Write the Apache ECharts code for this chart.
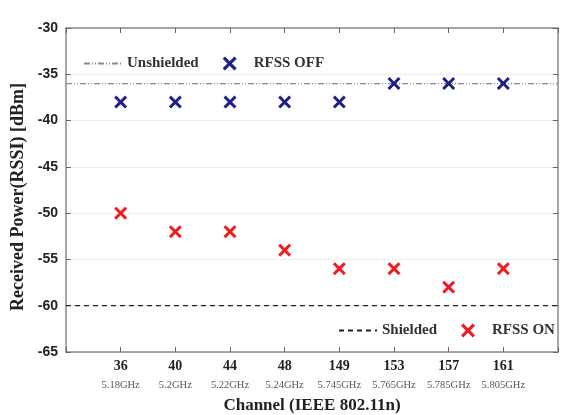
<!doctype html>
<html>
    <head>
        <meta charset="utf-8">
        <title>RSSI per channel</title>
        <style>
            html, body { margin: 0; padding: 0; background: #fff; }
            #main { width: 566px; height: 415px; }
        </style>
    </head>
    <body>
        <div id="main"></div>
        <script src="https://cdn.jsdelivr.net/npm/echarts@6/dist/echarts.min.js"></script>
        <script>
            var channels = ['36', '40', '44', '48', '149', '153', '157', '161'];
            var frequencies = ['5.18GHz', '5.2GHz', '5.22GHz', '5.24GHz', '5.745GHz', '5.765GHz', '5.785GHz', '5.805GHz'];
            var rfssOff = [-38, -38, -38, -38, -38, -36, -36, -36];
            var rfssOn = [-50, -52, -52, -54, -56, -56, -58, -56];
            var unshieldedLevel = -36;
            var shieldedLevel = -60;

            var cross = 'path://M0,1.6L1.6,0L5,3.4L8.4,0L10,1.6L6.6,5L10,8.4L8.4,10L5,6.6L1.6,10L0,8.4L3.4,5Z';
            var serif = '"Liberation Serif", "DejaVu Serif", serif';
            var noDot = { color: 'transparent', borderWidth: 0, opacity: 0 };

            function pairs(values) {
                return values.map(function (v, i) { return [i, v]; });
            }
            function flat(level) {
                return [[-1, level], [channels.length, level]];
            }

            var chart = echarts.init(document.getElementById('main'));

            var xBase = {
                type: 'value',
                min: -1,
                max: channels.length,
                interval: 1,
                axisLine: { onZero: false, lineStyle: { color: '#8a8a8a', width: 1.5 } },
                axisTick: { inside: true, length: 5, lineStyle: { color: '#666' } },
                splitLine: { show: false }
            };
            var yBase = {
                type: 'value',
                min: -65,
                max: -30,
                interval: 5,
                axisLine: { show: true, onZero: false, lineStyle: { color: '#8a8a8a', width: 1.5 } },
                axisTick: { show: true, inside: true, length: 5, lineStyle: { color: '#666' } }
            };
            var legendText = { fontFamily: serif, fontWeight: 'bold', fontSize: 15, color: '#333' };

            chart.setOption({
                animation: false,
                grid: { left: 66, right: 8, top: 28, bottom: 63, outerBoundsMode: 'none', containLabel: false },
                legend: [{
                    left: 78,
                    top: 51,
                    itemWidth: 38,
                    itemHeight: 14,
                    itemGap: 24,
                    textStyle: legendText,
                    data: [{ name: 'Unshielded', itemStyle: noDot }, { name: 'RFSS OFF', icon: cross }]
                }, {
                    left: 333,
                    top: 318,
                    itemWidth: 38,
                    itemHeight: 14,
                    itemGap: 24,
                    textStyle: legendText,
                    data: [{ name: 'Shielded', itemStyle: noDot }, { name: 'RFSS ON', icon: cross }]
                }],
                xAxis: [Object.assign({}, xBase, {
                    position: 'bottom',
                    name: 'Channel (IEEE 802.11n)',
                    nameLocation: 'middle',
                    nameGap: 45,
                    nameTextStyle: { fontFamily: serif, fontWeight: 'bold', fontSize: 17, color: '#222' },
                    axisLabel: {
                        margin: 4,
                        formatter: function (v) {
                            if (v < 0 || v >= channels.length) return '';
                            return '{c|' + channels[v] + '}\n{f|' + frequencies[v] + '}';
                        },
                        rich: {
                            c: { fontFamily: serif, fontWeight: 'bold', fontSize: 14, color: '#222', lineHeight: 21 },
                            f: { fontFamily: serif, fontSize: 10.5, color: '#555', lineHeight: 17 }
                        }
                    }
                }), Object.assign({}, xBase, {
                    position: 'top',
                    axisLabel: { show: false }
                })],
                yAxis: [Object.assign({}, yBase, {
                    position: 'left',
                    name: 'Received Power(RSSI) [dBm]',
                    nameLocation: 'middle',
                    nameGap: 37,
                    nameTextStyle: { fontFamily: serif, fontWeight: 'bold', fontSize: 18, color: '#222', padding: [0, 14, 0, 0] },
                    axisLabel: { fontFamily: '"Liberation Sans", Arial, sans-serif', fontWeight: 'bold', fontSize: 14, color: '#222', margin: 8 },
                    splitLine: { show: true, lineStyle: { color: '#dcdcdc', type: 'dotted', width: 1 } }
                }), Object.assign({}, yBase, {
                    position: 'right',
                    axisLabel: { show: false },
                    splitLine: { show: false }
                })],
                series: [{
                    name: 'Unshielded',
                    type: 'line',
                    data: flat(unshieldedLevel),
                    showSymbol: false,
                    symbol: 'none',
                    itemStyle: { color: '#8a8a8a' },
                    lineStyle: { color: '#8a8a8a', width: 1.2, type: [6, 2, 1, 2, 1, 2] },
                    z: 1
                }, {
                    name: 'Shielded',
                    type: 'line',
                    data: flat(shieldedLevel),
                    showSymbol: false,
                    symbol: 'none',
                    itemStyle: { color: '#222' },
                    lineStyle: { color: '#222', width: 1.2, type: [5, 4] },
                    z: 1
                }, {
                    name: 'RFSS OFF',
                    type: 'scatter',
                    data: pairs(rfssOff),
                    symbol: cross,
                    symbolSize: 13,
                    itemStyle: { color: '#1f1f8a', opacity: 1 },
                    z: 3
                }, {
                    name: 'RFSS ON',
                    type: 'scatter',
                    data: pairs(rfssOn),
                    symbol: cross,
                    symbolSize: 13,
                    itemStyle: { color: '#f01c22', opacity: 1 },
                    z: 3
                }]
            });

            window.onresize = chart.resize;
        </script>
    </body>
</html>
